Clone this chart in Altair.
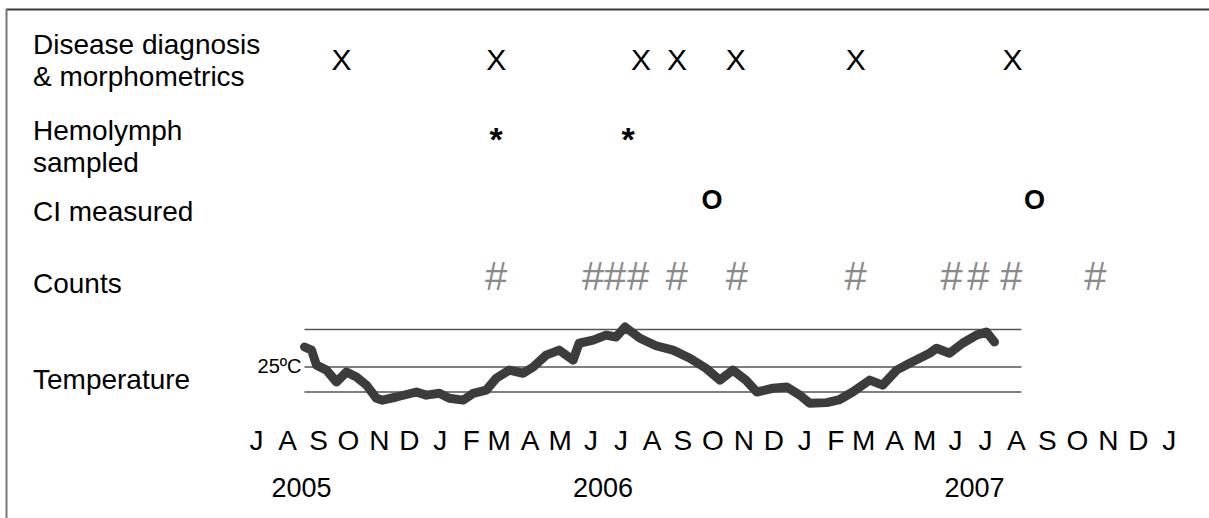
import altair as alt
import pandas as pd

# ---------------- data ----------------
rows = ["diag", "hemo", "ci", "counts"]
row_labels = ["Disease diagnosis\n& morphometrics", "Hemolymph\nsampled", "CI measured", "Counts"]

diag_dates = ["2005-10-09", "2006-03-13", "2006-08-05", "2006-09-10", "2006-11-08", "2007-03-08", "2007-08-12"]
hemo_dates = ["2006-03-13", "2006-07-23"]
ci_dates = ["2006-10-15", "2007-09-03"]
count_dates = ["2006-03-13", "2006-06-18", "2006-07-10", "2006-08-02", "2006-09-10", "2006-11-09",
               "2007-03-08", "2007-06-12", "2007-07-09", "2007-08-11", "2007-11-03"]

temp_dates = ["2005-09-02", "2005-09-09", "2005-09-14", "2005-09-24", "2005-10-04", "2005-10-14",
              "2005-10-24", "2005-11-03", "2005-11-13", "2005-11-19", "2005-12-03", "2005-12-23",
              "2006-01-02", "2006-01-15", "2006-01-25", "2006-02-08", "2006-02-18", "2006-03-03",
              "2006-03-13", "2006-03-26", "2006-04-09", "2006-04-19", "2006-05-02", "2006-05-15",
              "2006-05-29", "2006-06-04", "2006-06-18", "2006-07-01", "2006-07-11", "2006-07-20",
              "2006-08-04", "2006-08-20", "2006-09-06", "2006-09-23", "2006-10-09", "2006-10-23",
              "2006-11-05", "2006-11-18", "2006-11-29", "2006-12-15", "2006-12-29", "2007-01-11",
              "2007-01-21", "2007-02-07", "2007-02-20", "2007-03-05", "2007-03-22", "2007-04-04",
              "2007-04-18", "2007-05-01", "2007-05-11", "2007-05-21", "2007-05-28", "2007-06-10",
              "2007-06-23", "2007-07-07", "2007-07-17", "2007-07-25"]
temp_values = [28.2, 27.7, 25.3, 24.5, 22.6, 24.2, 23.4, 22.1, 20.0, 19.7, 20.2, 21.0,
               20.5, 20.8, 20.0, 19.7, 20.8, 21.3, 23.2, 24.5, 24.0, 25.0, 26.9, 27.7,
               26.1, 28.8, 29.3, 30.1, 29.8, 31.4, 29.6, 28.4, 27.7, 26.4, 24.8, 22.9,
               24.5, 22.9, 21.0, 21.6, 21.8, 20.5, 19.2, 19.3, 19.8, 21.0, 22.9, 22.1,
               24.5, 25.6, 26.4, 27.2, 28.0, 27.2, 28.8, 30.1, 30.6, 29.0]

grid_temps = [21, 25, 31]
grid_start = "2005-09-02"
grid_end = "2007-08-21"

month_letters = list("JASONDJFMAMJJASONDJFMAMJJASONDJ")
month_dates = [(pd.Timestamp("2005-07-01") + pd.DateOffset(months=i) + pd.Timedelta(days=15)).strftime("%Y-%m-%d")
               for i in range(len(month_letters))]

year_labels = ["2005", "2006", "2007"]
year_dates = ["2005-08-30", "2006-06-28", "2007-07-05"]

# ---------------- scales ----------------
FONT = "Liberation Sans"
x_scale = alt.Scale(type="utc",
                    domain=[alt.DateTime(year=2005, month=7, date=16, utc=True),
                            alt.DateTime(year=2008, month=1, date=16, utc=True)],
                    range=[256.6, 1169.2])
row_scale = alt.Scale(type="point", domain=rows, range=[60, 277], padding=0)
temp_scale = alt.Scale(domain=[20, 32], range=[398.25, 323.25], zero=False, nice=False)

X = alt.X("date:T", scale=x_scale, axis=None)


def events(dates, row, symbol, size, weight, color, dy):
    df = pd.DataFrame({"date": dates, "row": row, "sym": symbol})
    return alt.Chart(df).mark_text(font=FONT, fontSize=size, fontWeight=weight, color=color,
                                   baseline="middle", align="center", dy=dy).encode(
        x=X, y=alt.Y("row:N", scale=row_scale, axis=None), text="sym:N")


diag = events(diag_dates, "diag", "X", 30, "normal", "#000000", 1)
hemo = events(hemo_dates, "hemo", "*", 34, "bold", "#000000", 9)
ci = events(ci_dates, "ci", "O", 27, "bold", "#000000", -4)
counts = events(count_dates, "counts", "#", 40, "normal", "#8a8a8a", 1)

label_dy = {"diag": -13.6, "hemo": -0.8, "ci": 8.2, "counts": 7.6}
label_layers = []
for r, lab in zip(rows, row_labels):
    df = pd.DataFrame({"row": [r], "label": [lab]})
    label_layers.append(
        alt.Chart(df).mark_text(font=FONT, fontSize=28, align="left", baseline="middle",
                                lineBreak="\n", lineHeight=32, color="#000000", dy=label_dy[r]).encode(
            x=alt.value(33), y=alt.Y("row:N", scale=row_scale, axis=None), text="label:N")
    )

temp_label = alt.Chart(pd.DataFrame({"label": ["Temperature"]})).mark_text(
    font=FONT, fontSize=28, align="left", baseline="middle", color="#000000").encode(
    x=alt.value(33), y=alt.value(381), text="label:N")

grid_df = pd.DataFrame({"temp": grid_temps, "date": grid_start, "date2": grid_end})
grid = alt.Chart(grid_df).mark_rule(color="#555555", strokeWidth=1.3).encode(
    x=X, x2="date2:T", y=alt.Y("temp:Q", scale=temp_scale, axis=None))

deg_label = alt.Chart(pd.DataFrame({"temp": [25], "date": [grid_start], "label": ["25ºC"]})).mark_text(
    font=FONT, fontSize=20, align="right", baseline="middle", dx=-3, color="#000000").encode(
    x=X, y=alt.Y("temp:Q", scale=temp_scale, axis=None), text="label:N")

temp_df = pd.DataFrame({"date": temp_dates, "temp": temp_values})
temp_line = alt.Chart(temp_df).mark_line(color="#3c3c3c", strokeWidth=9, strokeJoin="round",
                                         strokeCap="round").encode(
    x=X, y=alt.Y("temp:Q", scale=temp_scale, axis=None))

months = alt.Chart(pd.DataFrame({"date": month_dates, "m": month_letters})).mark_text(
    font=FONT, fontSize=28, align="center", baseline="middle", color="#000000").encode(
    x=X, y=alt.value(441.5), text="m:N")

years = alt.Chart(pd.DataFrame({"date": year_dates, "y": year_labels})).mark_text(
    font=FONT, fontSize=27, align="center", baseline="middle", color="#000000").encode(
    x=X, y=alt.value(488.5), text="y:N")

one = pd.DataFrame({"a": [0]})
frame_top = alt.Chart(one).mark_rule(color="#3a3a3a", strokeWidth=2).encode(
    x=alt.value(6), x2=alt.value(1209), y=alt.value(9.5))
frame_left = alt.Chart(one).mark_rule(color="#777777", strokeWidth=2).encode(
    x=alt.value(6.5), y=alt.value(9), y2=alt.value(518))

chart = alt.layer(
    frame_top, frame_left, grid, temp_line, deg_label, temp_label, months, years,
    diag, hemo, ci, counts, *label_layers
).resolve_scale(y="independent").properties(
    width=1209, height=518, padding=0, autosize=alt.AutoSizeParams(type="none"),
    background="#ffffff"
).configure_view(strokeWidth=0)

chart.save("out.html", embed_options={"renderer": "svg", "actions": False})
